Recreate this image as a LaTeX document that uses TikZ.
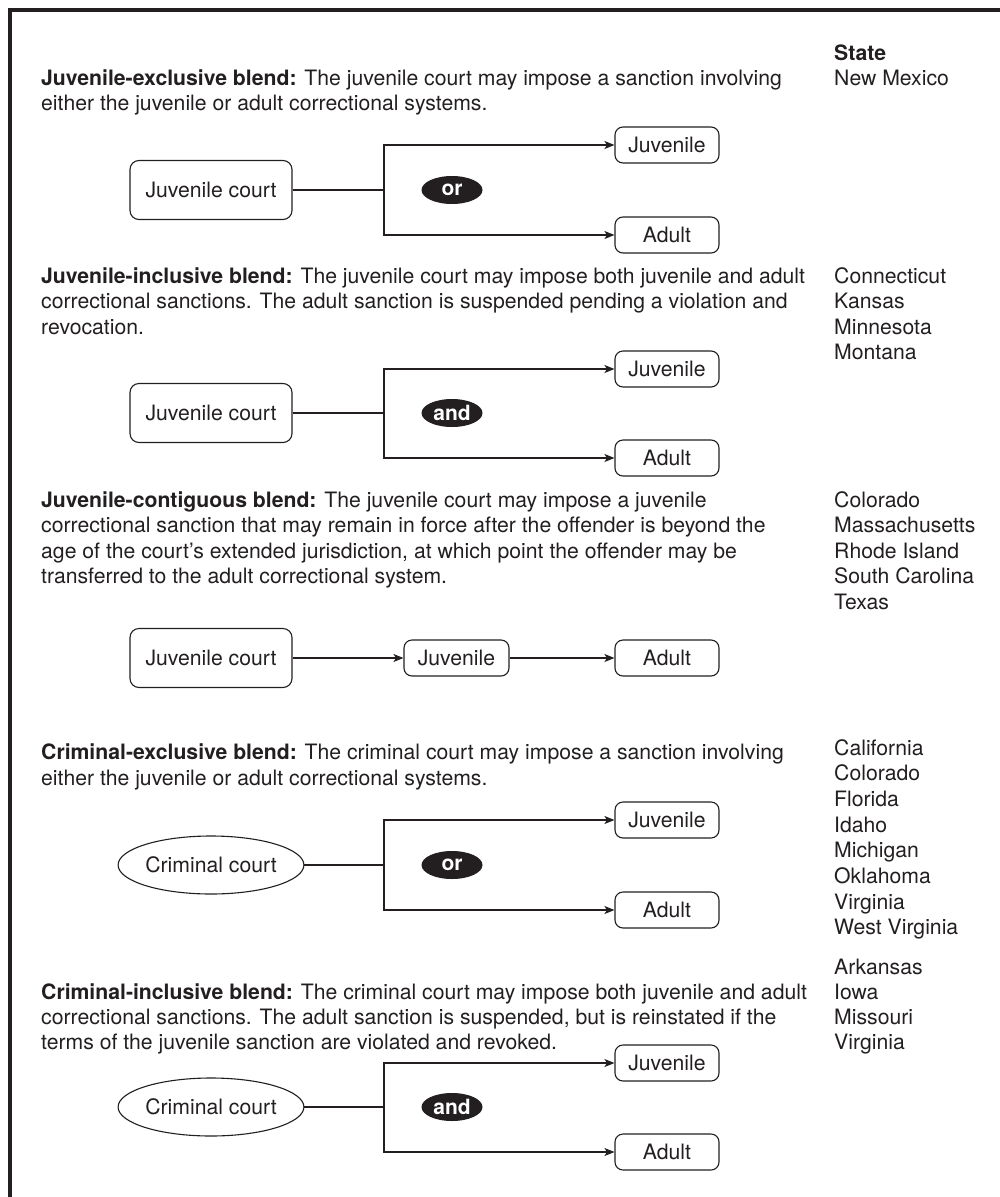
\documentclass[tikz,border=0pt]{standalone}
\usepackage{fontspec}
\setmainfont{TeX Gyre Heros}
\usetikzlibrary{shapes.geometric,arrows.meta}
\definecolor{ink}{RGB}{35,31,32}
\begin{document}
\begin{tikzpicture}[x=1pt,y=-1pt,
  body/.style={anchor=base west, inner sep=0pt, font=\fontsize{21.2}{25}\selectfont, text=ink},
  courtbox/.style={draw=ink, line width=1.1pt, rounded corners=9pt, minimum width=162pt,
    minimum height=59pt, inner sep=0pt, font=\fontsize{21.2}{25}\selectfont, text=ink},
  sysbox/.style={draw=ink, line width=1.1pt, rounded corners=8pt, minimum width=104pt,
    minimum height=36pt, inner sep=0pt, font=\fontsize{21.2}{25}\selectfont, text=ink},
  courtoval/.style={ellipse, draw=ink, line width=1.1pt, minimum width=163pt,
    minimum height=58pt, inner sep=0pt, font=\fontsize{21.2}{25}\selectfont, text=ink},
  badge/.style={ellipse, fill=ink, minimum width=61pt, minimum height=28pt, inner sep=0pt,
    text=white, font=\bfseries\fontsize{21}{22}\selectfont},
  link/.style={draw=ink, line width=1.1pt},
  arr/.style={link, -{Stealth[length=10pt,width=8pt,inset=2.5pt]}}
]
\useasboundingbox (0,0) rectangle (999,1197);
% outer frame (open to the right and bottom)
\draw[ink, line width=4pt] (10,1205) -- (10,10) -- (1005,10);

% ---------- state column ----------
\node[body, font=\bfseries\fontsize{21.2}{25}\selectfont] (st) at (834,60) {State};
\node[body] (st1a) at (834,85) {New Mexico};

\node[body] (st2a) at (834,283) {Connecticut};
\node[body] (st2b) at (834,308.5) {Kansas};
\node[body] (st2c) at (834,334) {Minnesota};
\node[body] (st2d) at (834,359.5) {Montana};

\node[body] (st3a) at (834,507) {Colorado};
\node[body] (st3b) at (834,532.6) {Massachusetts};
\node[body] (st3c) at (834,558.2) {Rhode Island};
\node[body] (st3d) at (834,583.8) {South Carolina};
\node[body] (st3e) at (834,609.4) {Texas};

\node[body] (st4a) at (834,755) {California};
\node[body] (st4b) at (834,780.7) {Colorado};
\node[body] (st4c) at (834,806.4) {Florida};
\node[body] (st4d) at (834,832.1) {Idaho};
\node[body] (st4e) at (834,857.8) {Michigan};
\node[body] (st4f) at (834,883.5) {Oklahoma};
\node[body] (st4g) at (834,909.2) {Virginia};
\node[body] (st4h) at (834,934.9) {West Virginia};

\node[body] (st5a) at (834,974) {Arkansas};
\node[body] (st5b) at (834,999) {Iowa};
\node[body] (st5c) at (834,1024) {Missouri};
\node[body] (st5d) at (834,1049) {Virginia};

% ---------- juvenile-exclusive blend ----------
\node[body] (h1a) at (41,85) {\textbf{Juvenile-exclusive blend:} The juvenile court may impose a sanction involving};
\node[body] (h1b) at (41,110) {either the juvenile or adult correctional systems.};
\node[courtbox] (c1) at (211,190) {Juvenile court};
\node[sysbox] (j1) at (667,145) {Juvenile};
\node[sysbox] (a1) at (667,235) {Adult};
\node[badge] (b1) at (452,190) {or};
\coordinate (s1) at (384,190);
\draw[link] (c1.east) -- (s1);
\draw[arr] (s1) |- (j1.west);
\draw[arr] (s1) |- (a1.west);

% ---------- juvenile-inclusive blend ----------
\node[body] (h2a) at (41,283) {\textbf{Juvenile-inclusive blend:} The juvenile court may impose both juvenile and adult};
\node[body] (h2b) at (41,308.5) {correctional sanctions. The adult sanction is suspended pending a violation and};
\node[body] (h2c) at (41,334) {revocation.};
\node[courtbox] (c2) at (211,413) {Juvenile court};
\node[sysbox] (j2) at (667,369) {Juvenile};
\node[sysbox] (a2) at (667,458) {Adult};
\node[badge] (b2) at (452,413) {and};
\coordinate (s2) at (384,413);
\draw[link] (c2.east) -- (s2);
\draw[arr] (s2) |- (j2.west);
\draw[arr] (s2) |- (a2.west);

% ---------- juvenile-contiguous blend ----------
\node[body] (h3a) at (41,507) {\textbf{Juvenile-contiguous blend:} The juvenile court may impose a juvenile};
\node[body] (h3b) at (41,532.6) {correctional sanction that may remain in force after the offender is beyond the};
\node[body] (h3c) at (41,558.2) {age of the court’s extended jurisdiction, at which point the offender may be};
\node[body] (h3d) at (41,583.8) {transferred to the adult correctional system.};
\node[courtbox] (c3) at (211,658) {Juvenile court};
\node[sysbox, minimum width=105pt] (j3) at (456.5,658) {Juvenile};
\node[sysbox] (a3) at (667,658) {Adult};
\draw[arr] (c3.east) -- (j3.west);
\draw[arr] (j3.east) -- (a3.west);

% ---------- criminal-exclusive blend ----------
\node[body] (h4a) at (41,759) {\textbf{Criminal-exclusive blend:} The criminal court may impose a sanction involving};
\node[body] (h4b) at (41,785) {either the juvenile or adult correctional systems.};
\node[courtoval] (c4) at (211,865) {Criminal court};
\node[sysbox] (j4) at (667,820) {Juvenile};
\node[sysbox] (a4) at (667,910) {Adult};
\node[badge] (b4) at (452,865) {or};
\coordinate (s4) at (384,865);
\draw[link] (c4.east) -- (s4);
\draw[arr] (s4) |- (j4.west);
\draw[arr] (s4) |- (a4.west);

% ---------- criminal-inclusive blend ----------
\node[body] (h5a) at (41,999) {\textbf{Criminal-inclusive blend:} The criminal court may impose both juvenile and adult};
\node[body] (h5b) at (41,1024) {correctional sanctions. The adult sanction is suspended, but is reinstated if the};
\node[body] (h5c) at (41,1049) {terms of the juvenile sanction are violated and revoked.};
\node[courtoval] (c5) at (211,1107) {Criminal court};
\node[sysbox] (j5) at (667,1063) {Juvenile};
\node[sysbox] (a5) at (667,1152) {Adult};
\node[badge] (b5) at (452,1107) {and};
\coordinate (s5) at (384,1107);
\draw[link] (c5.east) -- (s5);
\draw[arr] (s5) |- (j5.west);
\draw[arr] (s5) |- (a5.west);
\end{tikzpicture}
\end{document}
